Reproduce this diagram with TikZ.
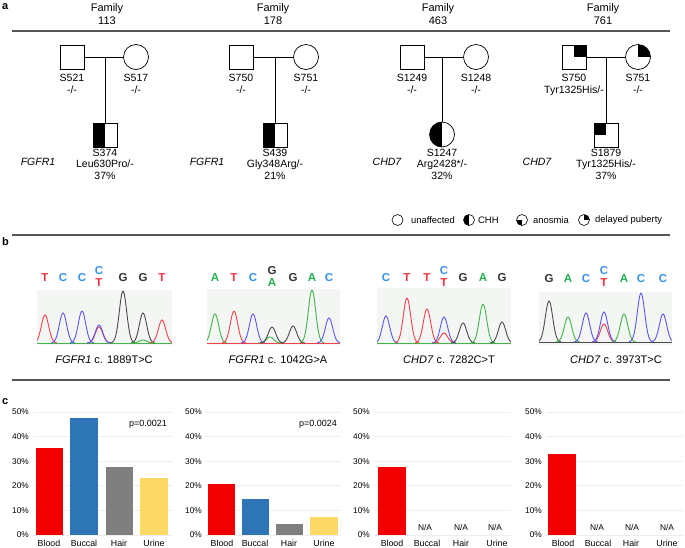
\documentclass[tikz,border=0pt]{standalone}
\usepackage{fontspec}
\setmainfont{Liberation Sans}
\definecolor{sepgray}{HTML}{555555}
\definecolor{lred}{HTML}{F0323C}
\definecolor{lblue}{HTML}{3392F0}
\definecolor{lgreen}{HTML}{22B04E}
\definecolor{lblack}{HTML}{333333}
\definecolor{tred}{HTML}{F2404C}
\definecolor{tblue}{HTML}{5A55EE}
\definecolor{tgreen}{HTML}{40B44A}
\definecolor{tblack}{HTML}{4A4A4A}
\definecolor{chromabg}{HTML}{F4F6F4}
\definecolor{gridc}{HTML}{EEEEEE}
\definecolor{bred}{HTML}{F20000}
\definecolor{bblue}{HTML}{2E75B6}
\definecolor{bgray}{HTML}{7F7F7F}
\definecolor{byellow}{HTML}{FFD966}
\newcommand\chrompk[4]{\draw[#1,trace] plot[domain=#2-12:#2+12,samples=30,smooth] (\x,{#4-(#4-#3)*exp(-((\x-#2)/5.2)^2)});}
\begin{document}
\begin{tikzpicture}[x=1pt,y=-1pt,
  male/.style={draw, rectangle, minimum size=24pt, inner sep=0pt, line width=0.7pt},
  female/.style={draw, circle, minimum size=25pt, inner sep=0pt, line width=0.7pt},
  lefthalf/.style={path picture={\fill[black] (path picture bounding box.south west) rectangle (path picture bounding box.north);}},
  qur/.style={path picture={\fill[black] (path picture bounding box.center) rectangle (path picture bounding box.north east);}},
  qul/.style={path picture={\fill[black] (path picture bounding box.center) rectangle (path picture bounding box.north west);}},
  qll/.style={path picture={\fill[black] (path picture bounding box.center) rectangle (path picture bounding box.south west);}},
  pline/.style={draw, line width=0.7pt},
  sep/.style={draw=sepgray, line width=1.2pt},
  plabel/.style={font=\fontsize{11}{12}\selectfont\bfseries, anchor=base west, inner sep=0pt},
  fam/.style={font=\fontsize{11}{13.5}\selectfont, align=center, inner sep=0pt},
  lbl/.style={font=\fontsize{10.5}{12.7}\selectfont, align=center, inner sep=0pt, anchor=north},
  clbl/.style={font=\fontsize{10.5}{11.6}\selectfont, align=center, inner sep=0pt, anchor=north},
  gene/.style={font=\fontsize{10.5}{12}\selectfont\itshape, inner sep=0pt},
  legicon/.style={draw, circle, minimum size=11pt, inner sep=0pt, line width=0.6pt},
  legtxt/.style={font=\fontsize{9.4}{10}\selectfont, anchor=west, inner sep=0pt},
  base/.style={font=\fontsize{11.5}{11.5}\selectfont\bfseries, inner sep=0pt},
  trace/.style={line width=0.9pt},
  chromlbl/.style={font=\fontsize{11}{12}\selectfont, inner sep=0pt},
  ytick/.style={font=\fontsize{8.3}{9}\selectfont, anchor=east, inner sep=0pt},
  xtick/.style={font=\fontsize{8.8}{10}\selectfont, inner sep=0pt},
  natick/.style={font=\fontsize{8.4}{10}\selectfont, inner sep=0pt},
  pval/.style={font=\fontsize{9}{10}\selectfont, inner sep=0pt},
  grid/.style={draw=gridc, line width=0.8pt}
]
\useasboundingbox (0,0) rectangle (685,547);
\fill[white] (0,0) rectangle (685,547);

% panel labels
\node[plabel] (la) at (2,9) {a};
\node[plabel] (lb) at (2,245) {b};
\node[plabel] (lc) at (2,404) {c};

% family headers
\node[fam] (fam113) at (107,14) {Family\\113};
\node[fam] (fam178) at (273,14) {Family\\178};
\node[fam] (fam463) at (438,14) {Family\\463};
\node[fam] (fam761) at (603,14) {Family\\761};
\draw[sep] (12,31) -- (670,31);

% ---- Family 113
\node[male] (s521) at (72,57) {};
\node[female] (s517) at (136,57) {};
\coordinate (m113) at (105,57);
\node[male,lefthalf] (s374) at (105,135) {};
\draw[pline] (s521) -- (s517);
\draw[pline] (m113) -- (s374);
\node[lbl] (t521) at (72,73.5) {S521\\-/-};
\node[lbl] (t517) at (136,73.5) {S517\\-/-};
\node[clbl] (t374) at (105,148.5) {S374\\Leu630Pro/-\\37\%};
\node[gene] (g113) at (38,162) {FGFR1};

% ---- Family 178
\node[male] (s750a) at (241,57) {};
\node[female] (s751a) at (306,57) {};
\coordinate (m178) at (275,57);
\node[male,lefthalf] (s439) at (275,135) {};
\draw[pline] (s750a) -- (s751a);
\draw[pline] (m178) -- (s439);
\node[lbl] (t750a) at (241,73.5) {S750\\-/-};
\node[lbl] (t751a) at (306,73.5) {S751\\-/-};
\node[clbl] (t439) at (275,148.5) {S439\\Gly348Arg/-\\21\%};
\node[gene] (g178) at (207,162) {FGFR1};

% ---- Family 463
\node[male] (s1249) at (412,57) {};
\node[female] (s1248) at (476,57) {};
\coordinate (m463) at (442,57);
\node[female,lefthalf] (s1247) at (442,134.5) {};
\draw[pline] (s1249) -- (s1248);
\draw[pline] (m463) -- (s1247);
\node[lbl] (t1249) at (412,73.5) {S1249\\-/-};
\node[lbl] (t1248) at (476,73.5) {S1248\\-/-};
\node[clbl] (t1247) at (442,148.5) {S1247\\Arg2428*/-\\32\%};
\node[gene] (g463) at (387,162) {CHD7};

% ---- Family 761
\node[male,qur] (s750b) at (574,57) {};
\node[female,qur] (s751b) at (638,57) {};
\coordinate (m761) at (606,57);
\node[male,qul] (s1879) at (606,135) {};
\draw[pline] (s750b) -- (s751b);
\draw[pline] (m761) -- (s1879);
\node[lbl] (t750b) at (574,73.5) {S750\\Tyr1325His/-};
\node[lbl] (t751b) at (638,73.5) {S751\\-/-};
\node[clbl] (t1879) at (606,148.5) {S1879\\Tyr1325His/-\\37\%};
\node[gene] (g761) at (537,162) {CHD7};

% ---- legend
\node[legicon] (li1) at (397.5,220) {};
\node[legtxt] (lt1) at (411,220) {unaffected};
\node[legicon,lefthalf] (li2) at (469,220) {};
\node[legtxt] (lt2) at (478,220) {CHH};
\node[legicon,qll] (li3) at (522,220) {};
\node[legtxt] (lt3) at (533,220) {anosmia};
\node[legicon,qur] (li4) at (584,220) {};
\node[legtxt] (lt4) at (595,220) {delayed puberty};

\draw[sep] (12,235) -- (670,235);

% ---- chromatograms
% panel 1
\fill[chromabg] (37,290) rectangle (172,345);
\begin{scope}
\clip (37,288) rectangle (172,345);
\draw[tblack,trace] (37,343) -- (172,343);
\draw[tgreen,trace] (37,343.5) -- (172,343.5);
\chrompk{tred}{45}{315}{343}
\chrompk{tblue}{63}{313}{343}
\chrompk{tblue}{82}{311}{343}
\chrompk{tred}{99}{327}{343}
\chrompk{tblue}{99}{325}{343}
\chrompk{tblack}{123}{291}{343}
\chrompk{tblack}{143}{313}{343}
\chrompk{tgreen}{143}{340}{343}
\chrompk{tred}{162}{320}{343}
\end{scope}
\node[base,lred] (b1a) at (45,278) {T};
\node[base,lblue] (b1b) at (63,278) {C};
\node[base,lblue] (b1c) at (82,278) {C};
\node[base,lblue] (b1d) at (99,271) {C};
\node[base,lred] (b1e) at (99,283) {T};
\node[base,lblack] (b1f) at (123,278) {G};
\node[base,lblack] (b1g) at (143,278) {G};
\node[base,lred] (b1h) at (162,278) {T};
\node[chromlbl] (c1) at (104,360) {\textit{FGFR1} c. 1889T>C};

% panel 2
\fill[chromabg] (207,289) rectangle (340,345);
\begin{scope}
\clip (207,287) rectangle (340,345);
\draw[tblack,trace] (207,343) -- (340,343);
\draw[tred,trace] (207,343.5) -- (340,343.5);
\chrompk{tgreen}{215}{314}{343}
\chrompk{tred}{234}{311}{343}
\chrompk{tblue}{253}{314}{343}
\chrompk{tgreen}{270}{337}{343}
\chrompk{tblack}{272}{327}{343}
\chrompk{tblack}{293}{326}{343}
\chrompk{tgreen}{312}{290}{343}
\chrompk{tblue}{329}{318}{343}
\end{scope}
\node[base,lgreen] (b2a) at (215,278) {A};
\node[base,lred] (b2b) at (234,278) {T};
\node[base,lblue] (b2c) at (253,278) {C};
\node[base,lblack] (b2d) at (272,271) {G};
\node[base,lgreen] (b2e) at (272,283) {A};
\node[base,lblack] (b2f) at (293,278) {G};
\node[base,lgreen] (b2g) at (312,278) {A};
\node[base,lblue] (b2h) at (329,278) {C};
\node[chromlbl] (c2) at (278,360) {\textit{FGFR1} c. 1042G>A};

% panel 3
\fill[chromabg] (377,288) rectangle (511,345);
\begin{scope}
\clip (377,286) rectangle (511,345);
\draw[tblack,trace] (377,343) -- (511,343);
\draw[tgreen,trace] (377,343.5) -- (511,343.5);
\chrompk{tblue}{386}{316}{343}
\chrompk{tred}{407}{298}{343}
\chrompk{tred}{427}{309}{343}
\chrompk{tred}{444}{333}{343}
\chrompk{tblue}{444}{317}{343}
\chrompk{tblack}{463}{323}{343}
\chrompk{tgreen}{483}{304}{343}
\chrompk{tblack}{502}{322}{343}
\end{scope}
\node[base,lblue] (b3a) at (386,278) {C};
\node[base,lred] (b3b) at (407,278) {T};
\node[base,lred] (b3c) at (427,278) {T};
\node[base,lblue] (b3d) at (444,271) {C};
\node[base,lred] (b3e) at (444,283) {T};
\node[base,lblack] (b3f) at (463,278) {G};
\node[base,lgreen] (b3g) at (483,278) {A};
\node[base,lblack] (b3h) at (502,278) {G};
\node[chromlbl] (c3) at (449,360) {\textit{CHD7} c. 7282C>T};

% panel 4
\fill[chromabg] (539,292) rectangle (672,345);
\begin{scope}
\clip (539,290) rectangle (672,345);
\draw[tred,trace] (539,342) -- (672,342);
\draw[tblack,trace] (539,342.5) -- (672,342.5);
\chrompk{tblack}{549}{301}{342}
\chrompk{tgreen}{568}{317}{342}
\chrompk{tblue}{586}{313}{342}
\chrompk{tred}{604}{324}{342}
\chrompk{tblue}{604}{312}{342}
\chrompk{tgreen}{624}{314}{342}
\chrompk{tblue}{641}{293}{342}
\chrompk{tblue}{663}{314}{342}
\end{scope}
\node[base,lblack] (b4a) at (549,279) {G};
\node[base,lgreen] (b4b) at (568,279) {A};
\node[base,lblue] (b4c) at (586,279) {C};
\node[base,lblue] (b4d) at (604,271) {C};
\node[base,lred] (b4e) at (604,283) {T};
\node[base,lgreen] (b4f) at (624,279) {A};
\node[base,lblue] (b4g) at (641,279) {C};
\node[base,lblue] (b4h) at (663,279) {C};
\node[chromlbl] (c4) at (616,360) {\textit{CHD7} c. 3973T>C};

\draw[sep] (12,380) -- (670,380);

% ---- bar charts
\foreach \ch/\lx/\ga/\gb in {1/29/33/172, 2/202/205/340, 3/370/374/511, 4/542/546/683}{
  \foreach \v in {0,10,20,30,40,50}{
    \draw[grid] (\ga,{535-2.46*\v}) -- (\gb,{535-2.46*\v});
    \node[ytick] (yt\ch-\v) at (\lx,{535-2.46*\v}) {\v\%};
  }
}
% chart 1
\fill[bred] (36,535) rectangle (63,{535-2.46*35.2});
\fill[bblue] (70,535) rectangle (98,{535-2.46*47.5});
\fill[bgray] (106,535) rectangle (133,{535-2.46*27.6});
\fill[byellow] (140,535) rectangle (168,{535-2.46*23});
\node[pval] (p1) at (148,424) {p=0.0021};
% chart 2
\fill[bred] (208,535) rectangle (235,{535-2.46*20.7});
\fill[bblue] (242,535) rectangle (269,{535-2.46*14.6});
\fill[bgray] (276,535) rectangle (303,{535-2.46*4.5});
\fill[byellow] (310,535) rectangle (338,{535-2.46*7.3});
\node[pval] (p2) at (318,424) {p=0.0024};
% chart 3
\fill[bred] (378,535) rectangle (406,{535-2.46*27.6});
\node[natick] (na31) at (425,527) {N/A};
\node[natick] (na32) at (461,527) {N/A};
\node[natick] (na33) at (495,527) {N/A};
% chart 4
\fill[bred] (548,535) rectangle (576,{535-2.46*33});
\node[natick] (na41) at (597,527) {N/A};
\node[natick] (na42) at (632,527) {N/A};
\node[natick] (na43) at (667,527) {N/A};
% x labels
\foreach \ch/\xa/\xb/\xc/\xd in {1/49/84/119/154, 2/222/255/289/324, 3/392/427/461/497, 4/563/598/631/667}{
  \node[xtick] (xb\ch) at (\xa,543) {Blood};
  \node[xtick] (xu\ch) at (\xb,543) {Buccal};
  \node[xtick] (xh\ch) at (\xc,543) {Hair};
  \node[xtick] (xr\ch) at (\xd,543) {Urine};
}
\end{tikzpicture}
\end{document}
